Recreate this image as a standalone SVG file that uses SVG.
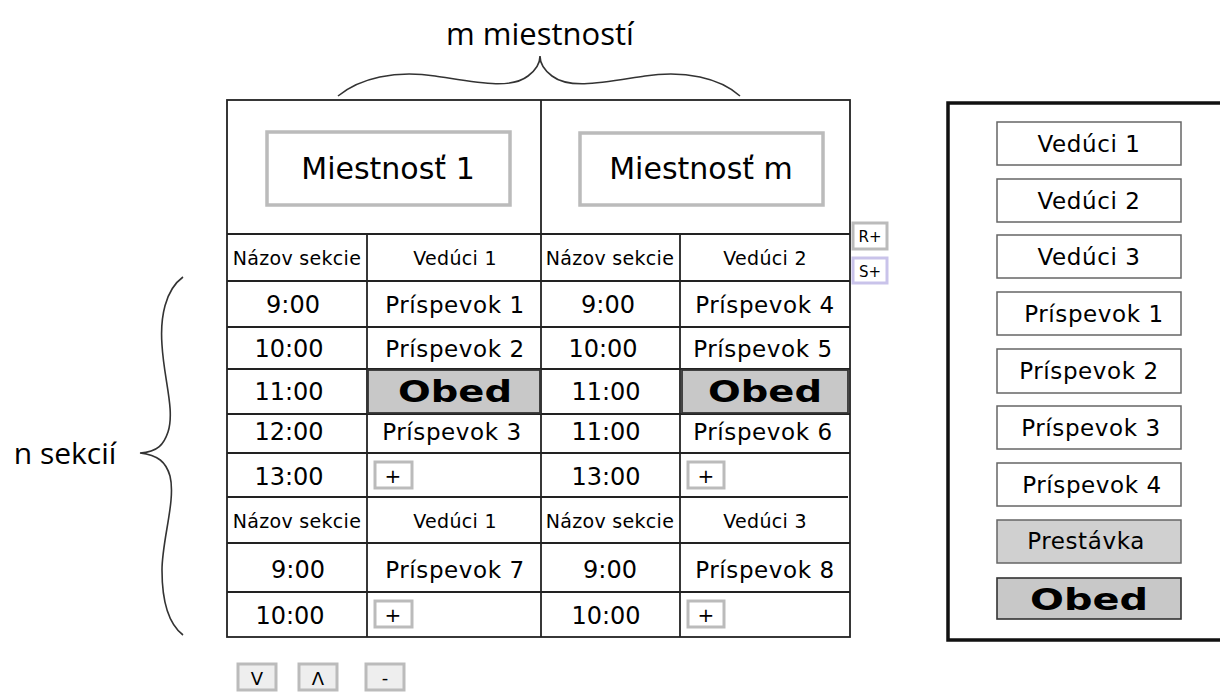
<svg xmlns="http://www.w3.org/2000/svg" width="1220" height="692" viewBox="0 0 1220 692">
<style>
text{font-family:"DejaVu Sans","Liberation Sans",sans-serif;fill:#000;text-anchor:middle}
.lbl{font-family:"Open Sans","DejaVu Sans",sans-serif;font-size:31px}
.grid{stroke:#222;stroke-width:1.8;fill:none}
.room{fill:#fff;stroke:#bbb;stroke-width:3.5}
.t{font-size:24px}
.p{font-size:23px;letter-spacing:0.6px}
.h{font-size:19px;letter-spacing:0.3px}
.obed{fill:#c8c8c8;stroke:#333;stroke-width:1.8}
.ob{font-weight:bold;font-size:30px}
.btn{fill:#fff;stroke:#bbb;stroke-width:3}
.btn2{fill:#eee;stroke:#bbb;stroke-width:3}
.pal{fill:#fff;stroke:#666;stroke-width:1.5}
.palg{fill:#d0d0d0;stroke:#666;stroke-width:1.5}
.brace{fill:none;stroke:#333;stroke-width:1.6}
</style>

<g id="label-rooms">
<text class="lbl" x="540" y="45">m miestností</text>
<path class="brace" d="M338,96 C360,78 395,70 435,76 C475,82 510,90 528,76 C536,70 540,64 540,56 C540,64 544,70 552,76 C570,90 605,82 645,76 C685,70 720,78 740,96"/>
</g>

<g id="label-sections">
<text class="lbl" x="65" y="464" style="font-size:30px">n sekcií</text>
<path class="brace" d="M183,277 C165,290 160,318 162,345 C164,380 175,410 168,432 C164,444 158,452 140,453 C158,455 166,462 170,476 C176,500 162,540 162,570 C162,605 170,625 183,635"/>
</g>

<g id="schedule-grid">
<rect class="grid" x="227" y="100" width="623" height="537"/>
<line class="grid" x1="541" y1="100" x2="541" y2="637"/>
<line class="grid" x1="367" y1="234" x2="367" y2="637"/>
<line class="grid" x1="680" y1="234" x2="680" y2="637"/>
<line class="grid" x1="227" y1="234" x2="850" y2="234"/>
<line class="grid" x1="227" y1="281" x2="850" y2="281"/>
<line class="grid" x1="227" y1="327" x2="850" y2="327"/>
<line class="grid" x1="227" y1="369" x2="850" y2="369"/>
<line class="grid" x1="227" y1="414" x2="850" y2="414"/>
<line class="grid" x1="227" y1="453" x2="850" y2="453"/>
<line class="grid" x1="227" y1="497" x2="848" y2="497"/>
<line class="grid" x1="227" y1="543" x2="850" y2="543"/>
<line class="grid" x1="227" y1="592" x2="850" y2="592"/>
</g>

<g id="room-1">
<rect class="room" x="267" y="132" width="243" height="73"/>
<text x="388" y="179" style="font-size:30px">Miestnosť 1</text>
</g>
<g id="room-m">
<rect class="room" x="580" y="133" width="243" height="72"/>
<text x="701" y="179" style="font-size:30px">Miestnosť m</text>
</g>

<g id="room1-section1">
<text class="h" x="297" y="265">Názov sekcie</text>
<text class="h" x="455" y="265">Vedúci 1</text>
<text class="t" x="293" y="313">9:00</text>
<text class="p" x="455" y="313">Príspevok 1</text>
<text class="t" x="289" y="357">10:00</text>
<text class="p" x="455" y="357">Príspevok 2</text>
<text class="t" x="289" y="400">11:00</text>
<rect class="obed" x="368" y="370" width="172" height="43"/>
<text class="ob" x="455" y="402" textLength="114" lengthAdjust="spacingAndGlyphs">Obed</text>
<text class="t" x="289" y="440">12:00</text>
<text class="p" x="452" y="440">Príspevok 3</text>
<text class="t" x="289" y="485">13:00</text>
<rect class="btn" x="375" y="462" width="37" height="26"/>
<text x="393" y="483" style="font-size:20px">+</text>
</g>

<g id="room1-section2">
<text class="h" x="297" y="528">Názov sekcie</text>
<text class="h" x="455" y="528">Vedúci 1</text>
<text class="t" x="298" y="578">9:00</text>
<text class="p" x="455" y="578">Príspevok 7</text>
<text class="t" x="290" y="624">10:00</text>
<rect class="btn" x="375" y="601" width="37" height="26"/>
<text x="393" y="622" style="font-size:20px">+</text>
</g>

<g id="roomm-section1">
<text class="h" x="610" y="265">Názov sekcie</text>
<text class="h" x="765" y="265">Vedúci 2</text>
<text class="t" x="608" y="313">9:00</text>
<text class="p" x="765" y="313">Príspevok 4</text>
<text class="t" x="603" y="357">10:00</text>
<text class="p" x="763" y="357">Príspevok 5</text>
<text class="t" x="606" y="400">11:00</text>
<rect class="obed" x="682" y="370" width="166" height="43"/>
<text class="ob" x="765" y="402" textLength="114" lengthAdjust="spacingAndGlyphs">Obed</text>
<text class="t" x="606" y="440">11:00</text>
<text class="p" x="763" y="440">Príspevok 6</text>
<text class="t" x="606" y="485">13:00</text>
<rect class="btn" x="688" y="462" width="36" height="26"/>
<text x="706" y="483" style="font-size:20px">+</text>
</g>

<g id="roomm-section2">
<text class="h" x="610" y="528">Názov sekcie</text>
<text class="h" x="765" y="528">Vedúci 3</text>
<text class="t" x="610" y="578">9:00</text>
<text class="p" x="765" y="578">Príspevok 8</text>
<text class="t" x="606" y="624">10:00</text>
<rect class="btn" x="688" y="601" width="36" height="26"/>
<text x="706" y="622" style="font-size:20px">+</text>
</g>

<g id="btn-add-room">
<rect x="853" y="223" width="34" height="26" fill="#fff" stroke="#bbb" stroke-width="3"/>
<text x="870" y="242" style="font-size:15px">R+</text>
</g>
<g id="btn-add-section">
<rect x="853" y="258" width="34" height="25" fill="#fff" stroke="#c9c3ea" stroke-width="3"/>
<text x="870" y="277" style="font-size:15px">S+</text>
</g>

<g id="btn-down">
<rect class="btn2" x="238" y="664" width="38" height="26"/>
<text x="257" y="685" style="font-size:18px">V</text>
</g>
<g id="btn-up">
<rect class="btn2" x="299" y="664" width="38" height="26"/>
<text x="318" y="685" style="font-size:18px">Λ</text>
</g>
<g id="btn-remove">
<rect class="btn2" x="366" y="664" width="38" height="26"/>
<text x="385" y="684" style="font-size:18px">-</text>
</g>

<g id="palette">
<rect x="948" y="103" width="290" height="537" fill="#fff" stroke="#111" stroke-width="3.5"/>
<g id="pal-veduci1"><rect class="pal" x="997" y="122" width="184" height="43"/><text class="p" x="1089" y="152">Vedúci 1</text></g>
<g id="pal-veduci2"><rect class="pal" x="997" y="179" width="184" height="43"/><text class="p" x="1089" y="209">Vedúci 2</text></g>
<g id="pal-veduci3"><rect class="pal" x="997" y="235" width="184" height="43"/><text class="p" x="1089" y="265">Vedúci 3</text></g>
<g id="pal-prispevok1"><rect class="pal" x="997" y="292" width="184" height="43"/><text class="p" x="1094" y="322">Príspevok 1</text></g>
<g id="pal-prispevok2"><rect class="pal" x="997" y="349" width="184" height="44"/><text class="p" x="1089" y="379">Príspevok 2</text></g>
<g id="pal-prispevok3"><rect class="pal" x="997" y="406" width="184" height="43"/><text class="p" x="1091" y="436">Príspevok 3</text></g>
<g id="pal-prispevok4"><rect class="pal" x="997" y="463" width="184" height="43"/><text class="p" x="1092" y="493">Príspevok 4</text></g>
<g id="pal-prestavka"><rect class="palg" x="997" y="520" width="184" height="43"/><text class="p" x="1086" y="549">Prestávka</text></g>
<g id="pal-obed"><rect x="997" y="578" width="184" height="41" fill="#c8c8c8" stroke="#333" stroke-width="1.6"/><text class="ob" x="1089" y="610" textLength="118" lengthAdjust="spacingAndGlyphs">Obed</text></g>
</g>
</svg>
